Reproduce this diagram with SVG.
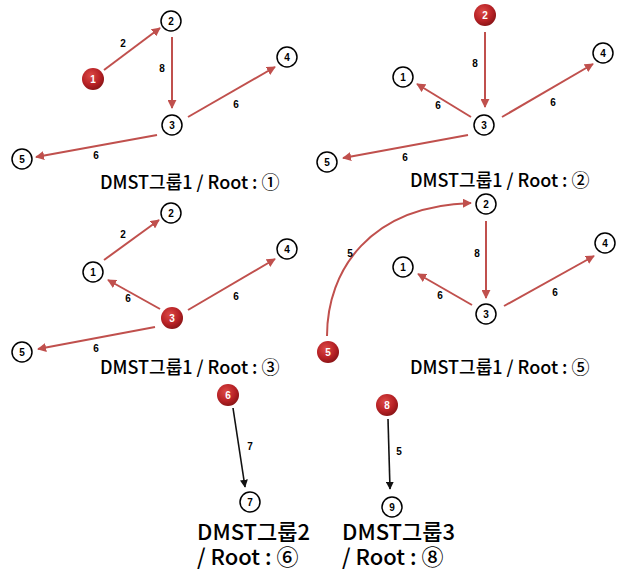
<svg xmlns="http://www.w3.org/2000/svg" width="627" height="571" viewBox="0 0 627 571">
  <defs>
    <radialGradient id="redBall" cx="0.4" cy="0.35" r="0.7">
      <stop offset="0" stop-color="#dc4a46"/>
      <stop offset="0.6" stop-color="#b82226"/>
      <stop offset="1" stop-color="#841214"/>
    </radialGradient>
    <marker id="ahRed" viewBox="0 0 10 10" refX="9" refY="5" markerWidth="4.5" markerHeight="4.5" orient="auto" markerUnits="strokeWidth">
      <path d="M0,0 L10,5 L0,10 z" fill="#c0504d"/>
    </marker>
    <marker id="ahBlack" viewBox="0 0 10 10" refX="9" refY="5" markerWidth="5" markerHeight="5" orient="auto" markerUnits="strokeWidth">
      <path d="M0,0 L10,5 L0,10 z" fill="#111"/>
    </marker>
  </defs>
  <style>
    .edge { stroke: #c0504d; stroke-width: 2; fill: none; marker-end: url(#ahRed); }
    .edgeK { stroke: #111; stroke-width: 1.6; fill: none; marker-end: url(#ahBlack); }
    .node circle { fill: #fff; stroke: #000; stroke-width: 1.5; }
    .root circle { fill: url(#redBall); stroke: none; }
    .node text { font-family: "Liberation Sans", Arial, sans-serif; font-size: 10px; font-weight: bold; text-anchor: middle; fill: #000; }
    .root text { font-family: "Liberation Sans", Arial, sans-serif; font-size: 10px; font-weight: bold; text-anchor: middle; fill: #fff; }
    .w { font-family: "Liberation Sans", Arial, sans-serif; font-size: 10px; font-weight: bold; fill: #000; text-anchor: middle; }
    .cap { font-family: "Noto Sans CJK KR", "Noto Sans", sans-serif; font-size: 18px; font-weight: 500; fill: #000; }
    .capL { font-family: "Noto Sans CJK KR", "Noto Sans", sans-serif; font-size: 22px; font-weight: 500; fill: #000; }
  </style>

  <!-- connectors -->
  <g id="connectors">
    <!-- group 1, root 1 -->
    <line class="edge" x1="104" y1="70" x2="160" y2="28"/>
    <line class="edge" x1="172" y1="37" x2="172" y2="108"/>
    <line class="edge" x1="188" y1="117" x2="275" y2="67"/>
    <line class="edge" x1="157" y1="135" x2="36" y2="157"/>
    <!-- group 1, root 2 -->
    <line class="edge" x1="485" y1="32" x2="485" y2="107"/>
    <line class="edge" x1="471" y1="117" x2="417" y2="84"/>
    <line class="edge" x1="502" y1="117" x2="593" y2="64"/>
    <line class="edge" x1="468" y1="135" x2="343" y2="158"/>
    <!-- group 1, root 3 -->
    <line class="edge" x1="104" y1="260" x2="159" y2="220"/>
    <line class="edge" x1="160" y1="309" x2="108" y2="280"/>
    <line class="edge" x1="188" y1="310" x2="275" y2="259"/>
    <line class="edge" x1="155" y1="327" x2="38" y2="349"/>
    <!-- group 1, root 5 -->
    <path class="edge" d="M327,336 C327,270 370,206 471,203"/>
    <line class="edge" x1="486" y1="221" x2="486" y2="298"/>
    <line class="edge" x1="472" y1="305" x2="418" y2="274"/>
    <line class="edge" x1="504" y1="306" x2="594" y2="256"/>
    <!-- group 2 and 3 -->
    <line class="edgeK" x1="233" y1="408" x2="245" y2="487"/>
    <line class="edgeK" x1="388" y1="419" x2="390" y2="489"/>

    <text class="w" x="123" y="47">2</text>
    <text class="w" x="162" y="72">8</text>
    <text class="w" x="236" y="108">6</text>
    <text class="w" x="96" y="159">6</text>

    <text class="w" x="475" y="67">8</text>
    <text class="w" x="438" y="109">6</text>
    <text class="w" x="553" y="106">6</text>
    <text class="w" x="405" y="161">6</text>

    <text class="w" x="123" y="238">2</text>
    <text class="w" x="128" y="302">6</text>
    <text class="w" x="236" y="300">6</text>
    <text class="w" x="96" y="352">6</text>

    <text class="w" x="350" y="257">5</text>
    <text class="w" x="477" y="257">8</text>
    <text class="w" x="440" y="299">6</text>
    <text class="w" x="555" y="296">6</text>

    <text class="w" x="250" y="450">7</text>
    <text class="w" x="399" y="455">5</text>
  </g>

  <!-- group 1, root 1 -->
  <g id="g1r1-n1" class="root"><circle cx="93" cy="79" r="11"/><text x="93" y="83">1</text></g>
  <g id="g1r1-n2" class="node"><circle cx="171" cy="21" r="10"/><text x="171" y="25">2</text></g>
  <g id="g1r1-n3" class="node"><circle cx="172" cy="125" r="10"/><text x="172" y="129">3</text></g>
  <g id="g1r1-n4" class="node"><circle cx="287" cy="57" r="10"/><text x="287" y="61">4</text></g>
  <g id="g1r1-n5" class="node"><circle cx="22" cy="159" r="10"/><text x="22" y="163">5</text></g>
  <text class="cap" x="100" y="189">DMST그룹1 / Root : ①</text>

  <!-- group 1, root 2 -->
  <g id="g1r2-n2" class="root"><circle cx="485" cy="15" r="11"/><text x="485" y="19">2</text></g>
  <g id="g1r2-n1" class="node"><circle cx="403" cy="77" r="10"/><text x="403" y="81">1</text></g>
  <g id="g1r2-n3" class="node"><circle cx="484" cy="125" r="10"/><text x="484" y="129">3</text></g>
  <g id="g1r2-n4" class="node"><circle cx="603" cy="53" r="10"/><text x="603" y="57">4</text></g>
  <g id="g1r2-n5" class="node"><circle cx="327" cy="162" r="10"/><text x="327" y="166">5</text></g>
  <text class="cap" x="410" y="187">DMST그룹1 / Root : ②</text>

  <!-- group 1, root 3 -->
  <g id="g1r3-n3" class="root"><circle cx="172" cy="318" r="11"/><text x="172" y="322">3</text></g>
  <g id="g1r3-n1" class="node"><circle cx="93" cy="272" r="10"/><text x="93" y="276">1</text></g>
  <g id="g1r3-n2" class="node"><circle cx="171" cy="213" r="10"/><text x="171" y="217">2</text></g>
  <g id="g1r3-n4" class="node"><circle cx="287" cy="249" r="10"/><text x="287" y="253">4</text></g>
  <g id="g1r3-n5" class="node"><circle cx="22" cy="352" r="10"/><text x="22" y="356">5</text></g>
  <text class="cap" x="100" y="374">DMST그룹1 / Root : ③</text>

  <!-- group 1, root 5 -->
  <g id="g1r5-n5" class="root"><circle cx="328" cy="352" r="11"/><text x="328" y="356">5</text></g>
  <g id="g1r5-n1" class="node"><circle cx="403" cy="267" r="10"/><text x="403" y="271">1</text></g>
  <g id="g1r5-n2" class="node"><circle cx="486" cy="204" r="10"/><text x="486" y="208">2</text></g>
  <g id="g1r5-n3" class="node"><circle cx="486" cy="314" r="10"/><text x="486" y="318">3</text></g>
  <g id="g1r5-n4" class="node"><circle cx="605" cy="243" r="10"/><text x="605" y="247">4</text></g>
  <text class="cap" x="410" y="374">DMST그룹1 / Root : ⑤</text>

  <!-- group 2, root 6 -->
  <g id="g2-n6" class="root"><circle cx="228" cy="395" r="11"/><text x="228" y="399">6</text></g>
  <g id="g2-n7" class="node"><circle cx="250" cy="502" r="10"/><text x="250" y="506">7</text></g>
  <text class="capL"><tspan x="197" y="540">DMST그룹2</tspan><tspan x="197" y="565">/ Root : ⑥</tspan></text>

  <!-- group 3, root 8 -->
  <g id="g3-n8" class="root"><circle cx="387" cy="405" r="11"/><text x="387" y="409">8</text></g>
  <g id="g3-n9" class="node"><circle cx="392" cy="507" r="10"/><text x="392" y="511">9</text></g>
  <text class="capL"><tspan x="342" y="540">DMST그룹3</tspan><tspan x="342" y="565">/ Root : ⑧</tspan></text>
</svg>
